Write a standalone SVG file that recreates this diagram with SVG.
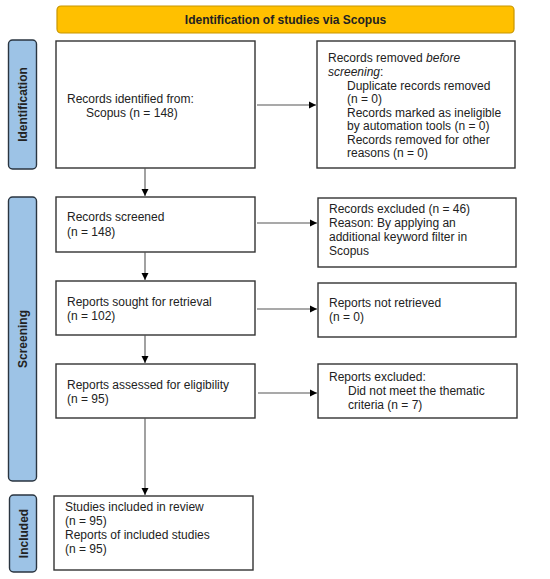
<svg xmlns="http://www.w3.org/2000/svg" width="550" height="579" viewBox="0 0 550 579">
<defs>
<marker id="arr" markerWidth="8" markerHeight="8" refX="7" refY="4" orient="auto" markerUnits="userSpaceOnUse">
<path d="M0,0.5 L7,4 L0,7.5 Z" fill="#000"/>
</marker>
</defs>
<style>
text{font-family:"Liberation Sans",Arial,sans-serif;font-size:12px;fill:#222}
.box{fill:#fff;stroke:#333;stroke-width:1.4}
.side{fill:#9DC3E6;stroke:#2a3540;stroke-width:1.4}
.side-t{font-weight:bold;font-size:12px;text-anchor:middle}
.hdr{fill:#FFC000;stroke:#C89600;stroke-width:1.2}
.con{stroke:#555;stroke-width:1.1;fill:none;marker-end:url(#arr)}
</style>
<rect width="550" height="579" fill="#fff"/>
<g id="header">
<rect class="hdr" x="57" y="6" width="457" height="27" rx="4"/>
<text x="285.5" y="24" text-anchor="middle" font-weight="bold">Identification of studies via Scopus</text>
</g>
<g id="side-identification">
<rect class="side" x="8.5" y="40" width="28" height="129" rx="4"/>
<text class="side-t" transform="translate(27,104.5) rotate(-90)">Identification</text>
</g>
<g id="side-screening">
<rect class="side" x="8.5" y="197" width="28" height="284" rx="4"/>
<text class="side-t" transform="translate(27,339) rotate(-90)">Screening</text>
</g>
<g id="side-included">
<rect class="side" x="9.5" y="495" width="27" height="77" rx="4"/>
<text class="side-t" transform="translate(27.5,533.5) rotate(-90)">Included</text>
</g>
<g id="identified">
<rect class="box" x="56" y="41" width="199" height="127"/>
<text x="67" y="103">Records identified from:</text>
<text x="86" y="117">Scopus (n = 148)</text>
</g>
<g id="removed">
<rect class="box" x="317" y="41" width="198" height="127"/>
<text x="328" y="62">Records removed <tspan font-style="italic">before</tspan></text>
<text x="328" y="76"><tspan font-style="italic">screening</tspan>:</text>
<text x="347" y="89.5">Duplicate records removed</text>
<text x="347" y="103">(n = 0)</text>
<text x="347" y="116.5">Records marked as ineligible</text>
<text x="347" y="130">by automation tools (n = 0)</text>
<text x="347" y="143.5">Records removed for other</text>
<text x="347" y="157">reasons (n = 0)</text>
</g>
<g id="screened">
<rect class="box" x="56" y="197" width="199" height="55"/>
<text x="67" y="221">Records screened</text>
<text x="67" y="236">(n = 148)</text>
</g>
<g id="excluded">
<rect class="box" x="318" y="198" width="198" height="69"/>
<text x="329" y="213">Records excluded (n = 46)</text>
<text x="329" y="227">Reason: By applying an</text>
<text x="329" y="241">additional keyword filter in</text>
<text x="329" y="255">Scopus</text>
</g>
<g id="sought">
<rect class="box" x="56" y="281" width="199" height="54"/>
<text x="67" y="306">Reports sought for retrieval</text>
<text x="67" y="320">(n = 102)</text>
</g>
<g id="notretrieved">
<rect class="box" x="318" y="283" width="198" height="54"/>
<text x="329" y="307">Reports not retrieved</text>
<text x="329" y="321">(n = 0)</text>
</g>
<g id="assessed">
<rect class="box" x="56" y="364" width="199" height="54"/>
<text x="67" y="389">Reports assessed for eligibility</text>
<text x="67" y="403">(n = 95)</text>
</g>
<g id="reportsexcluded">
<rect class="box" x="318" y="364" width="199" height="54"/>
<text x="329" y="381">Reports excluded:</text>
<text x="348" y="395">Did not meet the thematic</text>
<text x="348" y="409">criteria (n = 7)</text>
</g>
<g id="included">
<rect class="box" x="54" y="496" width="199" height="74"/>
<text x="65" y="511">Studies included in review</text>
<text x="65" y="525">(n = 95)</text>
<text x="65" y="539">Reports of included studies</text>
<text x="65" y="553">(n = 95)</text>
</g>
<g id="connectors">
<line class="con" x1="145" y1="168" x2="145" y2="196"/>
<line class="con" x1="145" y1="252" x2="145" y2="280"/>
<line class="con" x1="145" y1="335" x2="145" y2="363"/>
<line class="con" x1="145" y1="418" x2="145" y2="495"/>
<line class="con" x1="257" y1="105" x2="316" y2="105"/>
<line class="con" x1="257" y1="223" x2="317" y2="223"/>
<line class="con" x1="257" y1="309" x2="317" y2="309"/>
<line class="con" x1="258" y1="393" x2="317" y2="393"/>
</g>
</svg>
